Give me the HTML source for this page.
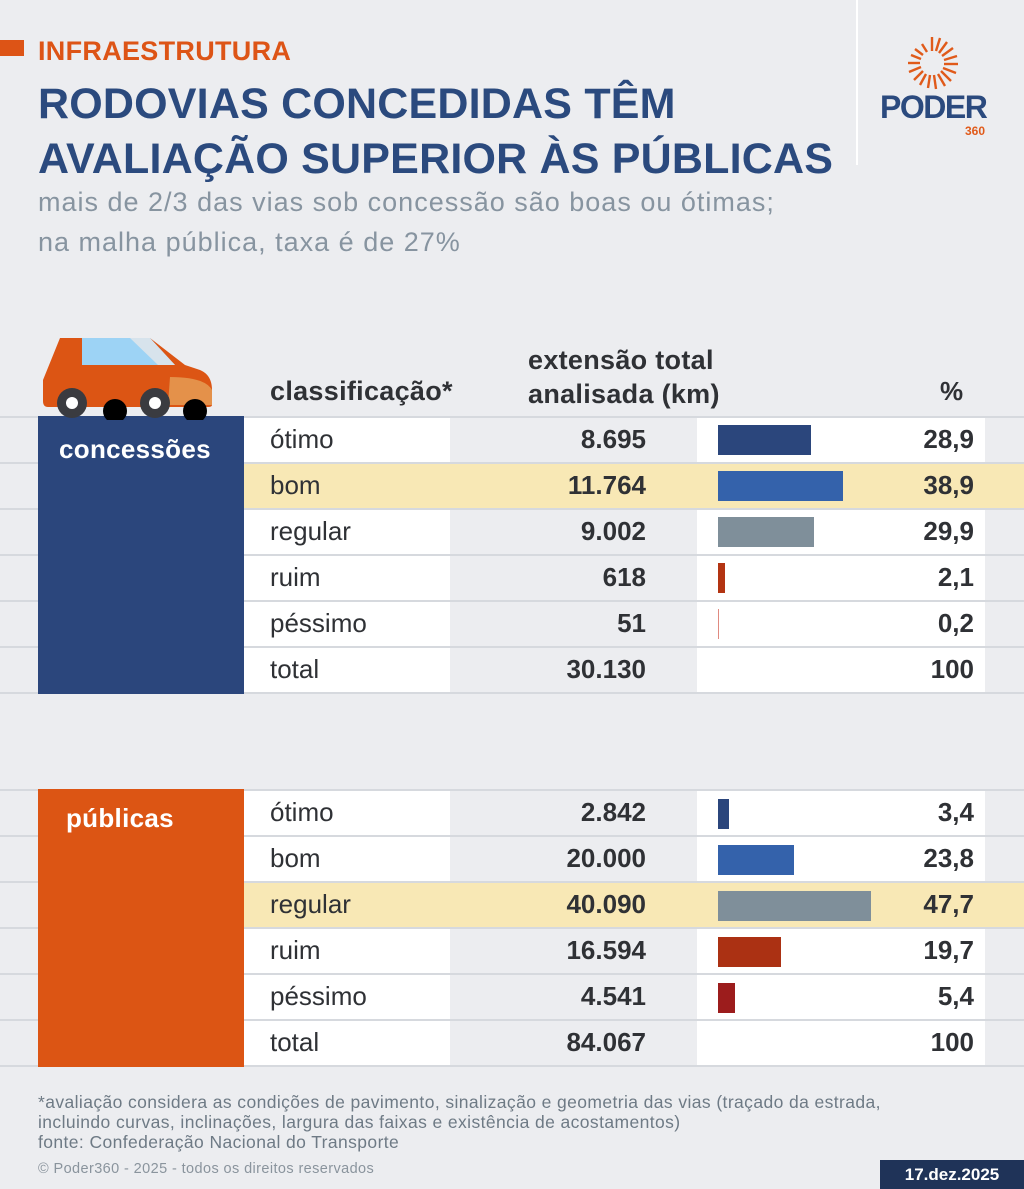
<!DOCTYPE html>
<html><head><meta charset="utf-8"><style>
*{margin:0;padding:0;box-sizing:border-box}
body{width:1024px;height:1189px;background:#ecedf0;font-family:"Liberation Sans","DejaVu Sans",sans-serif;position:relative;overflow:hidden;color:#2f3135}
.a{position:absolute;white-space:nowrap}
.line{position:absolute;left:0;width:1024px;height:2px;background:#d6d9de}
.t{font-weight:bold;color:#2b4a7e;font-size:43px;letter-spacing:0.2px}
.lbl{font-size:26px;left:270px}
.num{font-size:26px;font-weight:bold;right:378px;text-align:right}
.pct{font-size:26px;font-weight:bold;right:50px;text-align:right}
.bar{position:absolute;left:718px;height:30px}
.blk{z-index:2}
</style></head><body>
<div class="a" style="left:0;top:40px;width:24px;height:16px;background:#dd5416"></div>
<div class="a" style="left:38px;top:36px;font-size:27px;font-weight:bold;color:#dd5416;letter-spacing:0.3px">INFRAESTRUTURA</div>
<div class="a t" style="left:38px;top:80px">RODOVIAS CONCEDIDAS TÊM</div>
<div class="a t" style="left:38px;top:135px">AVALIAÇÃO SUPERIOR ÀS PÚBLICAS</div>
<div class="a" style="left:38px;top:187px;font-size:27px;color:#8794a0;letter-spacing:1px">mais de 2/3 das vias sob concessão são boas ou ótimas;</div>
<div class="a" style="left:38px;top:227px;font-size:27px;color:#8794a0;letter-spacing:1px">na malha pública, taxa é de 27%</div>
<div class="a" style="left:856px;top:0;width:2px;height:165px;background:#fff"></div>
<svg class="a" style="left:905px;top:36px" width="54" height="54" viewBox="-27 -27 54 54">
<g stroke="#e05a1a" stroke-width="2.4">
<line x1="0" y1="-12" x2="0" y2="-26"/><line x1="4" y1="-12" x2="8" y2="-25"/><line x1="7" y1="-10" x2="15" y2="-21"/><line x1="10" y1="-7" x2="21" y2="-15"/><line x1="12" y1="-3" x2="25" y2="-7"/><line x1="12" y1="1" x2="26" y2="1"/><line x1="11" y1="5" x2="24" y2="10"/><line x1="9" y1="8" x2="19" y2="18"/><line x1="6" y1="11" x2="13" y2="23"/><line x1="2" y1="12" x2="4" y2="26"/><line x1="-2" y1="12" x2="-4" y2="25"/><line x1="-6" y1="11" x2="-12" y2="22"/><line x1="-9" y1="8" x2="-18" y2="17"/><line x1="-11" y1="4" x2="-23" y2="9"/><line x1="-12" y1="0" x2="-24" y2="0"/><line x1="-11" y1="-4" x2="-21" y2="-8"/><line x1="-9" y1="-8" x2="-17" y2="-14"/><line x1="-5" y1="-11" x2="-10" y2="-19"/></g></svg>
<div class="a" style="left:880px;top:89px;font-size:32px;font-weight:bold;color:#2b4a7e;letter-spacing:-1.5px">PODER</div>
<div class="a" style="left:965px;top:124px;font-size:12px;font-weight:bold;color:#e05a1a">360</div>

<svg class="a" style="left:40px;top:335px;z-index:3" width="175" height="85" viewBox="0 0 175 85">
<path d="M20 3 H110 L145 30 L160 35 Q172 40 172 55 V70 Q172 72 168 72 H8 Q3 72 3 66 V45 Z" fill="#dc5514"/>
<path d="M130 42 Q165 42 172 55 V70 H128 Z" fill="#e4914a"/>
<path d="M42 3 H110 L135 30 H42 Z" fill="#9dd3f5"/>
<path d="M90 3 H110 L135 30 H118 Z" fill="#d7e3ec"/>
<circle cx="75" cy="76" r="12" fill="#000"/><circle cx="155" cy="76" r="12" fill="#000"/>
<circle cx="32" cy="68" r="15" fill="#3a3b40"/><circle cx="32" cy="68" r="6" fill="#fff"/>
<circle cx="115" cy="68" r="15" fill="#3a3b40"/><circle cx="115" cy="68" r="6" fill="#fff"/>
</svg>
<div class="a" style="left:270px;top:376px;font-size:27px;font-weight:bold;letter-spacing:0.3px">classificação*</div>
<div class="a" style="left:528px;top:343px;font-size:27px;font-weight:bold;line-height:34px;letter-spacing:0.3px">extensão total<br>analisada (km)</div>
<div class="a" style="left:940px;top:376px;font-size:26px;font-weight:bold">%</div>

<div class="a" style="left:244px;top:417px;width:206px;height:276px;background:#fff"></div>
<div class="a" style="left:697px;top:417px;width:288px;height:276px;background:#fff"></div>
<div class="a" style="left:244px;top:463px;width:780px;height:46px;background:#f8e8b5"></div>

<div class="a" style="left:244px;top:790px;width:206px;height:276px;background:#fff"></div>
<div class="a" style="left:697px;top:790px;width:288px;height:276px;background:#fff"></div>
<div class="a" style="left:244px;top:882px;width:780px;height:46px;background:#f8e8b5"></div>

<div class="line" style="top:416px"></div><div class="line" style="top:462px"></div><div class="line" style="top:508px"></div><div class="line" style="top:554px"></div><div class="line" style="top:600px"></div><div class="line" style="top:646px"></div><div class="line" style="top:692px"></div>
<div class="line" style="top:789px"></div><div class="line" style="top:835px"></div><div class="line" style="top:881px"></div><div class="line" style="top:927px"></div><div class="line" style="top:973px"></div><div class="line" style="top:1019px"></div><div class="line" style="top:1065px"></div>

<div class="a blk" style="left:38px;top:416px;width:206px;height:278px;background:#2b467c"></div>
<div class="a blk" style="left:59px;top:434px;font-size:26px;font-weight:bold;color:#fff;letter-spacing:0.3px">concessões</div>
<div class="a blk" style="left:38px;top:789px;width:206px;height:278px;background:#dc5514"></div>
<div class="a blk" style="left:66px;top:803px;font-size:26px;font-weight:bold;color:#fff;letter-spacing:0.3px">públicas</div>

<div class="a lbl" style="top:424px">ótimo</div><div class="a num" style="top:424px">8.695</div><div class="bar" style="top:425px;width:93px;background:#2b467c"></div><div class="a pct" style="top:424px">28,9</div>
<div class="a lbl" style="top:470px">bom</div><div class="a num" style="top:470px">11.764</div><div class="bar" style="top:471px;width:125px;background:#3462ab"></div><div class="a pct" style="top:470px">38,9</div>
<div class="a lbl" style="top:516px">regular</div><div class="a num" style="top:516px">9.002</div><div class="bar" style="top:517px;width:96px;background:#7f8f9a"></div><div class="a pct" style="top:516px">29,9</div>
<div class="a lbl" style="top:562px">ruim</div><div class="a num" style="top:562px">618</div><div class="bar" style="top:563px;width:7px;background:#b33412"></div><div class="a pct" style="top:562px">2,1</div>
<div class="a lbl" style="top:608px">péssimo</div><div class="a num" style="top:608px">51</div><div class="bar" style="top:609px;width:1px;background:#e08a80"></div><div class="a pct" style="top:608px">0,2</div>
<div class="a lbl" style="top:654px">total</div><div class="a num" style="top:654px">30.130</div><div class="a pct" style="top:654px">100</div>

<div class="a lbl" style="top:797px">ótimo</div><div class="a num" style="top:797px">2.842</div><div class="bar" style="top:799px;width:11px;background:#2b467c"></div><div class="a pct" style="top:797px">3,4</div>
<div class="a lbl" style="top:843px">bom</div><div class="a num" style="top:843px">20.000</div><div class="bar" style="top:845px;width:76px;background:#3462ab"></div><div class="a pct" style="top:843px">23,8</div>
<div class="a lbl" style="top:889px">regular</div><div class="a num" style="top:889px">40.090</div><div class="bar" style="top:891px;width:153px;background:#7f8f9a"></div><div class="a pct" style="top:889px">47,7</div>
<div class="a lbl" style="top:935px">ruim</div><div class="a num" style="top:935px">16.594</div><div class="bar" style="top:937px;width:63px;background:#ab3113"></div><div class="a pct" style="top:935px">19,7</div>
<div class="a lbl" style="top:981px">péssimo</div><div class="a num" style="top:981px">4.541</div><div class="bar" style="top:983px;width:17px;background:#9c1c1c"></div><div class="a pct" style="top:981px">5,4</div>
<div class="a lbl" style="top:1027px">total</div><div class="a num" style="top:1027px">84.067</div><div class="a pct" style="top:1027px">100</div>

<div class="a" style="left:38px;top:1092px;font-size:17.5px;color:#6e7a85;line-height:20px;letter-spacing:0.4px">*avaliação considera as condições de pavimento, sinalização e geometria das vias (traçado da estrada,<br>incluindo curvas, inclinações, largura das faixas e existência de acostamentos)<br>fonte: Confederação Nacional do Transporte</div>
<div class="a" style="left:38px;top:1161px;font-size:14.5px;color:#8a949d;letter-spacing:0.4px">© Poder360 - 2025 - todos os direitos reservados</div>
<div class="a" style="left:880px;top:1160px;width:144px;height:29px;background:#1f3358;color:#fff;font-size:17px;font-weight:bold;text-align:center;line-height:29px">17.dez.2025</div>
</body></html>
